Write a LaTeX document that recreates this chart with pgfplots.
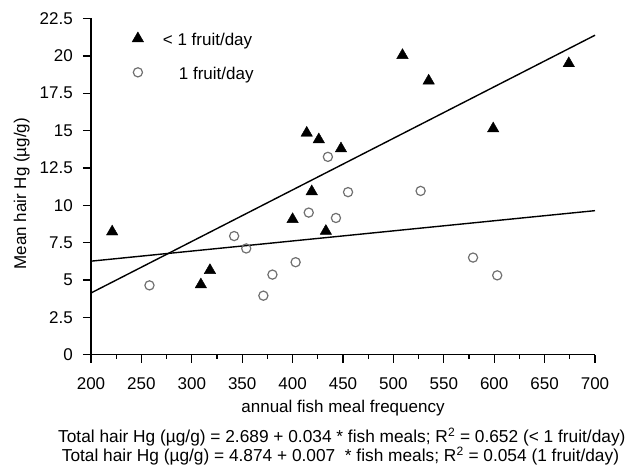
\documentclass[border=0pt]{standalone}
\usepackage{fontspec}
\setmainfont{Liberation Sans}
\usepackage{pgfplots}
\pgfplotsset{compat=1.18}

\definecolor{circgray}{HTML}{707070}

\begin{document}
\begin{tikzpicture}[font=\fontsize{17bp}{20bp}\selectfont]
\path[use as bounding box] (0,0) rectangle (626bp,468bp);
\begin{axis}[
  name=ax,
  at={(91bp,113.3bp)}, anchor=south west,
  scale only axis, width=504bp, height=336.2bp,
  xmin=200, xmax=700, ymin=0, ymax=22.5,
  enlargelimits=false, clip=false,
  axis lines=left,
  axis line style={-, line width=1.6bp},
  xtick={200,250,...,700}, minor x tick num=1,
  ytick={0,2.5,...,22.5},
  tick align=outside,
  major tick length=8bp, minor tick length=4bp,
  tick style={black, line width=1.3bp},
  /pgf/number format/assume math mode=true,
  yticklabel style={anchor=east, inner sep=0pt, xshift=-10bp},
  xticklabel style={anchor=center, inner sep=0pt, yshift=-21.3bp},
  xlabel={annual fish meal frequency},
  xlabel style={at={(axis description cs:0.5,0)}, anchor=center, yshift=-53.3bp},
  ylabel={Mean hair Hg (µg/g)},
  ylabel style={at={(axis description cs:0,0.479)}, anchor=center, yshift=69.3bp},
  legend cell align=left,
  legend style={at={(axis description cs:0.0817,0.960)}, anchor=north west,
    draw=none, fill=none, inner sep=0pt, outer sep=0pt, row sep=17.8bp,
    nodes={inner sep=0pt, text height=12bp, text depth=4bp}},
  legend image code/.code={\path[draw=none] (0bp,3bp) -- (25bp,3bp);
    \draw[#1] plot coordinates {(0bp,3bp)};},
]
\addplot[only marks, mark=triangle*, mark size=6.6bp,
  mark options={fill=black, draw=black, line width=0.4bp}] coordinates {
  (221,8.23) (309,4.69) (318,5.65) (400,9.06) (414,14.84) (419,10.92)
  (426,14.40) (433,8.27) (448,13.79) (509,20.04) (535,18.33) (599,15.13)
  (674,19.49)};
\addlegendentry{< 1 fruit/day}
\addplot[only marks, mark=o, mark size=4.6bp,
  mark options={draw=circgray, fill=white, line width=1.2bp}] coordinates {
  (258,4.64) (342,7.94) (354,7.11) (371,3.95) (380,5.36) (403,6.19)
  (416,9.51) (435,13.24) (443,9.15) (455,10.88) (527,10.96) (579,6.50)
  (603,5.31)};
\addlegendentry{\hspace*{16bp}1 fruit/day}
% fitted lines as drawn
\addplot[black, line width=1.4bp, forget plot] coordinates {(200,4.13) (700,21.38)};
\addplot[black, line width=1.4bp, forget plot] coordinates {(200,6.26) (700,9.64)};
\end{axis}
\node[anchor=west, inner sep=0pt, font=\fontsize{17.3bp}{20bp}\selectfont]
  at ([xshift=-33bp,yshift=-82bp]ax.south west)
  {Total hair Hg (µg/g) = 2.689 + 0.034 * fish meals; R\textsuperscript{2} = 0.652 (< 1 fruit/day)};
\node[anchor=west, inner sep=0pt, font=\fontsize{17.3bp}{20bp}\selectfont]
  at ([xshift=-29.3bp,yshift=-101.3bp]ax.south west)
  {Total hair Hg (µg/g) = 4.874 + 0.007\ \ * fish meals; R\textsuperscript{2} = 0.054 (1 fruit/day)};
\end{tikzpicture}
\end{document}
